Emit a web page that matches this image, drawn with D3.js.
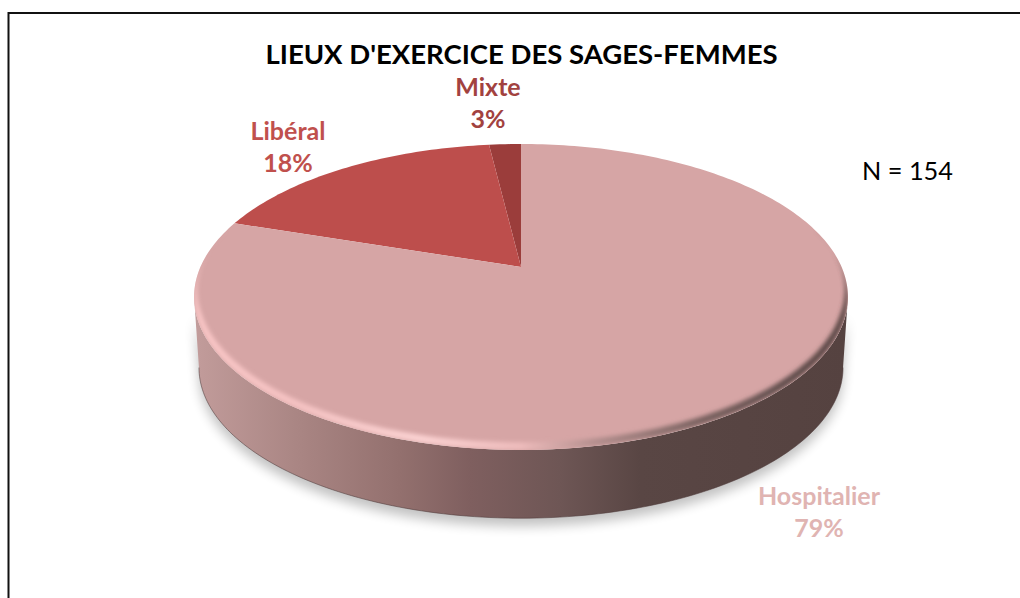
<!DOCTYPE html>
<html>
<head>
<meta charset="utf-8">
<script src="https://cdn.jsdelivr.net/npm/d3@7"></script>
<style>
  html, body { margin: 0; padding: 0; background: #fff; overflow: hidden; }
  text { font-family: Lato, "Open Sans", sans-serif; }
</style>
</head>
<body>
<div class="chart"></div>
<script>
var width = 1020;
var height = 598;

// data
var categories = ["Hospitalier", "Libéral", "Mixte"];
var shares = [79, 18, 3];
var colors = ["#d6a5a5", "#bd4e4c", "#9b3d3b"];
var labelColors = ["#e0b4b2", "#c0504d", "#a2423f"];

// where each label goes (centre x, baseline of first line)
var labelAnchors = [[819, 505], [288, 140], [488, 96]];

var svg = d3.select(".chart").append("svg")
    .attr("width", width)
    .attr("height", height)
    .style("display", "block");

var defs = svg.append("defs");

// 3D look of the pie: apex is not the middle of the ellipse
var apexX = 521, apexY = 267;
var radiusX = 320.6, radiusY = 147.1, persp = 0.196;
var depth = 71, bottomScale = 0.985;

// the back of the pie gets squeezed a bit by the 3D renderer
var squeeze = d3.scaleLinear()
    .domain([0, 0.03, 0.21, 1])
    .range([0, 0.019, 0.199, 1]);

// angle = clockwise from 12 o'clock, in radians
function project(a, scale, dy) {
  var u = Math.sin(a), v = Math.cos(a);
  var s = scale / (1 + persp * v);
  return [apexX + radiusX * u * s, apexY + (dy || 0) - radiusY * v * s];
}

function arcPoints(a0, a1, scale, dy) {
  var n = Math.max(2, Math.ceil(Math.abs(a1 - a0) / 0.02));
  return d3.range(n + 1).map(function (i) {
    return project(a0 + (a1 - a0) * i / n, scale, dy);
  });
}

var line = d3.line();

var pie = d3.pie().sort(null).startAngle(0).endAngle(-2 * Math.PI);
var slices = pie(shares);

function warped(a) {
  // a is negative (pie runs counter-clockwise from the top)
  return -2 * Math.PI * squeeze(-a / (2 * Math.PI));
}

// the pie values start at Mixte side in the picture, so order them back to front
var order = [2, 1, 0];
var cum = 0;
var wedges = order.map(function (idx) {
  var slice = slices[idx];
  var span = Math.abs(slice.endAngle - slice.startAngle);
  var w = { index: idx, a0: warped(-cum), a1: warped(-(cum + span)) };
  cum += span;
  return w;
});

function wedgePath(w) {
  return line([[apexX, apexY]].concat(arcPoints(w.a0, w.a1, 1))) + "Z";
}

var topOutline = line(arcPoints(0, 2 * Math.PI, 1)) + "Z";

// front wall: from right extreme round the bottom to the left extreme
var extreme = Math.acos(-persp);
var frontTop = arcPoints(extreme, 2 * Math.PI - extreme, 1);
var frontBottom = arcPoints(2 * Math.PI - extreme, extreme, bottomScale, depth);
var wallPath = line(frontTop.concat(frontBottom)) + "Z";
var bottomEdge = line(frontBottom);

// bevel crescent along the lower edge of the top, tapers out behind the extremes
var rimStart = extreme - 0.45, rimEnd = 2 * Math.PI - extreme + 0.45;
var rimOuter = arcPoints(rimStart, rimEnd, 1);
var rimInner = d3.range(rimOuter.length).map(function (i) {
  var a = rimEnd + (rimStart - rimEnd) * i / (rimOuter.length - 1);
  var t = Math.min(1, Math.max(0, (0.35 - Math.cos(a)) / 0.7));
  return project(a, 1 - 0.012 * t, -5.5 * t);
});
var rimPath = line(rimOuter.concat(rimInner)) + "Z";

// gradients
function hGradient(id, stops) {
  var g = defs.append("linearGradient")
      .attr("id", id)
      .attr("gradientUnits", "userSpaceOnUse")
      .attr("x1", 194).attr("x2", 848).attr("y1", 0).attr("y2", 0);
  stops.forEach(function (s) {
    g.append("stop")
        .attr("offset", (s[0] - 194) / (848 - 194))
        .attr("stop-color", s[1]);
  });
}

hGradient("wall", [
  [194, "#c29c9b"], [300, "#a98583"], [400, "#93706e"], [470, "#7f5f5f"],
  [560, "#6e5655"], [640, "#594644"], [848, "#554240"]
]);
hGradient("rim", [
  [194, "#f9c6c6"], [300, "#f4c2c2"], [420, "#fbd2d2"], [520, "#eebcbc"],
  [600, "#b08c8b"], [700, "#7a6260"], [780, "#655150"], [848, "#5a4644"]
]);

defs.append("filter").attr("id", "blurShadow")
    .attr("x", "-10%").attr("y", "-10%").attr("width", "120%").attr("height", "120%")
  .append("feGaussianBlur").attr("stdDeviation", 6);
defs.append("filter").attr("id", "blurRim")
    .attr("x", "-5%").attr("y", "-5%").attr("width", "110%").attr("height", "110%")
  .append("feGaussianBlur").attr("stdDeviation", 2);
defs.append("clipPath").attr("id", "topClip")
  .append("path").attr("d", topOutline);

// frame, only left and top show in the picture
svg.append("path")
    .attr("d", "M8.5,598V13H1020")
    .attr("fill", "none")
    .attr("stroke", "#111")
    .attr("stroke-width", 2);

// shadow below the pie
svg.append("path")
    .attr("d", wallPath)
    .attr("transform", "translate(0,8)")
    .attr("fill", "#000")
    .attr("opacity", 0.24)
    .attr("filter", "url(#blurShadow)");

// side wall
svg.append("path")
    .attr("d", wallPath)
    .attr("fill", "url(#wall)");
svg.append("path")
    .attr("d", bottomEdge)
    .attr("fill", "none")
    .attr("stroke", "#4f3b3b")
    .attr("stroke-opacity", 0.55)
    .attr("stroke-width", 1);

// wedges
svg.append("g")
    .attr("class", "wedges")
  .selectAll("path")
  .data(wedges)
  .enter().append("path")
    .attr("d", wedgePath)
    .attr("fill", function (d) { return colors[d.index]; });

// bevel on the lower edge of the top
svg.append("g")
    .attr("clip-path", "url(#topClip)")
  .append("path")
    .attr("d", rimPath)
    .attr("fill", "url(#rim)")
    .attr("filter", "url(#blurRim)");

// title and note
svg.append("text")
    .attr("x", 521.5).attr("y", 64)
    .attr("text-anchor", "middle")
    .attr("font-size", 27.5)
    .attr("font-weight", 700)
    .attr("fill", "#000")
    .text("LIEUX D'EXERCICE DES SAGES-FEMMES");

svg.append("text")
    .attr("x", 862).attr("y", 180)
    .attr("font-size", 25.3)
    .attr("fill", "#000")
    .text("N = 154");

// labels
var labels = svg.append("g")
    .attr("class", "labels")
  .selectAll("text")
  .data(categories)
  .enter().append("text")
    .attr("text-anchor", "middle")
    .attr("font-size", 25)
    .attr("font-weight", 700)
    .attr("fill", function (d, i) { return labelColors[i]; });

labels.append("tspan")
    .attr("x", function (d, i) { return labelAnchors[i][0]; })
    .attr("y", function (d, i) { return labelAnchors[i][1]; })
    .text(function (d) { return d; });

labels.append("tspan")
    .attr("x", function (d, i) { return labelAnchors[i][0]; })
    .attr("y", function (d, i) { return labelAnchors[i][1] + 32; })
    .text(function (d, i) { return shares[i] + "%"; });
</script>
</body>
</html>
